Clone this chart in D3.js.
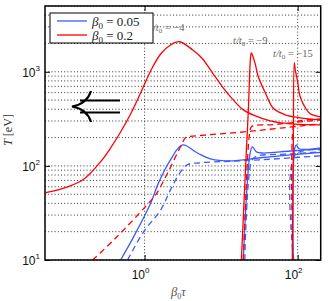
<!DOCTYPE html>
<html>
<head>
<meta charset="utf-8">
<script src="https://cdn.jsdelivr.net/npm/d3@7"></script>
<style>
body{margin:0;background:#fff}
text{font-family:"Liberation Sans",Arial,sans-serif}
.tex{font-family:"Liberation Serif","DejaVu Serif",serif}
</style>
</head>
<body>
<svg id="chart" width="331" height="301"></svg>
<script>
var xTicks = [1, 100];
var yTicks = [10, 100, 1000];
var betaLabels = ["0.05", "0.2"];
var caseLabels = ["\u22124", "\u22129", "\u221215"];

// beta0 = 0.2, solid / dashed, t/t0 = -4, -9, -15   ([beta0*tau, T])
var red4 = [[0.0512,52],[0.099,60],[0.16,72],[0.267,111],[0.36,155],[0.486,229],[0.657,356],[0.887,595],[1.2,1021],[1.62,1545],[2.18,1928],[2.86,2085],[4.22,1714],[5.7,1375],[7.7,975],[10.4,692],[14.0,516],[19.5,394],[28.0,340],[43.9,301],[80.1,280],[200,273]];
var red4d = [[0.21,10],[0.419,17.1],[1.03,37],[1.39,49],[2.0,84],[2.94,159],[3.42,199],[3.75,204],[6.83,214],[20.1,230],[59.3,252],[200,280]];
var red9 = [[18.4,10],[21.4,148],[22.7,394],[24.1,1343],[24.8,1592],[26.4,1410],[28.0,1200],[30.6,885],[37.8,598],[48.1,410],[68.9,349],[108,324],[200,308]];
var red9d = [[19.5,10],[23.4,214],[24.8,260],[28.0,270],[43.9,273],[108,294],[200,308]];
var red15 = [[85.1,10],[87.7,148],[90.3,1247],[93.0,1050],[98.8,822],[108,542],[126,414],[146,358],[200,332]];
var red15d = [[86.4,10],[89,273],[95.9,294],[200,316]];

// beta0 = 0.05
var blue4 = [[0.486,10],[0.719,17.6],[1.2,40],[1.52,66],[2.18,116],[3.13,167],[4.91,137],[7.25,119],[13.2,113],[32.5,122],[80.1,131],[200,139]];
var blue4d = [[0.6,10],[0.97,19.9],[1.62,34],[2.18,55.6],[2.94,86],[3.64,103],[5.37,108],[13.2,112],[32.5,116],[200,128]];
var blue9 = [[19.5,10],[24.1,141],[25.6,159],[28.9,141],[34.5,137],[80.1,144],[200,152]];
var blue9d = [[20.4,10],[24.8,110],[28.0,125],[80.1,134],[200,141]];
var blue15 = [[87.7,10],[91.7,155],[95.9,167],[105,152],[200,155]];
var blue15d = [[89,10],[93,131],[200,148]];

var RED = "#ff0000", BLUE = "#3b5bff";
var series = [
    {d: blue4d, c: BLUE, dash: true}, {d: blue9d, c: BLUE, dash: true}, {d: blue15d, c: BLUE, dash: true},
    {d: blue4, c: BLUE}, {d: blue9, c: BLUE}, {d: blue15, c: BLUE},
    {d: red4d, c: RED, dash: true}, {d: red9d, c: RED, dash: true}, {d: red15d, c: RED, dash: true},
    {d: red4, c: RED}, {d: red9, c: RED}, {d: red15, c: RED}
];

var svg = d3.select("#chart");
var L = 45, R = 320.7, T = 6, B = 260;

var x = d3.scaleLog().domain([0.05, 200]).range([L, R]);
var y = d3.scaleLog().domain([10, 5000]).range([B, T]);

svg.append("clipPath").attr("id", "clip")
    .append("rect").attr("x", L).attr("y", T).attr("width", R - L).attr("height", B - T);

// grid
svg.append("g").selectAll("line").data(y.ticks()).join("line")
    .attr("x1", L).attr("x2", R)
    .attr("y1", d => y(d)).attr("y2", d => y(d))
    .attr("stroke", "#333").attr("stroke-dasharray", "1,2.2");
svg.append("g").selectAll("line").data(xTicks).join("line")
    .attr("x1", d => x(d)).attr("x2", d => x(d))
    .attr("y1", T).attr("y2", B)
    .attr("stroke", "#333").attr("stroke-dasharray", "1,2.2");

// curves
var line = d3.line()
    .x(d => x(d[0]))
    .y(d => y(d[1]))
    .curve(d3.curveCatmullRom.alpha(0.5));

svg.append("g").attr("clip-path", "url(#clip)")
    .selectAll("path").data(series).join("path")
    .attr("d", s => line(s.d))
    .attr("fill", "none")
    .attr("stroke", s => s.c)
    .attr("stroke-width", 1.3)
    .attr("stroke-dasharray", s => s.dash ? "6,4" : null);

// axes (ticks inward, MATLAB style)
function sup(g, base, p) {
    g.append("tspan").text(base);
    g.append("tspan").attr("dy", -6).attr("font-size", 8).text(p);
}
svg.append("g").attr("transform", `translate(0,${B})`)
    .call(d3.axisBottom(x).tickValues(xTicks).tickSize(-5).tickFormat(""));
svg.append("g").attr("transform", `translate(0,${T})`)
    .call(d3.axisTop(x).tickValues(xTicks).tickSize(-5).tickFormat(""));
svg.append("g").attr("transform", `translate(${L},0)`)
    .call(d3.axisLeft(y).tickValues(yTicks).tickSize(-5).tickFormat(""));
svg.append("g").attr("transform", `translate(${R},0)`)
    .call(d3.axisRight(y).tickValues(yTicks).tickSize(-5).tickFormat(""));
svg.selectAll(".domain").remove();
svg.selectAll(".tick line").attr("stroke", "#000");

xTicks.forEach(function(v) {
    var t = svg.append("text").attr("x", x(v) - 4).attr("y", 279)
        .attr("text-anchor", "middle").attr("font-size", 12).attr("fill", "#111");
    sup(t, "10", Math.round(Math.log10(v)));
});
yTicks.forEach(function(v) {
    var t = svg.append("text").attr("x", 40).attr("y", y(v) + 5)
        .attr("text-anchor", "end").attr("font-size", 12).attr("fill", "#111");
    sup(t, "10", Math.round(Math.log10(v)));
});

svg.append("rect").attr("x", L).attr("y", T).attr("width", R - L).attr("height", B - T)
    .attr("fill", "none").attr("stroke", "#000").attr("stroke-width", 1.5);

// axis labels
var xl = svg.append("text").attr("class", "tex").attr("x", 171).attr("y", 296)
    .attr("font-size", 12.5).attr("fill", "#555").attr("font-style", "italic");
xl.append("tspan").text("\u03b2");
xl.append("tspan").attr("dy", 3).attr("font-size", 8).attr("font-style", "normal").text("0");
xl.append("tspan").attr("dy", -3).text("\u03c4");

var yl = svg.append("text").attr("class", "tex")
    .attr("transform", "translate(12,130) rotate(-90)")
    .attr("text-anchor", "middle").attr("font-size", 12).attr("fill", "#333");
yl.append("tspan").attr("font-style", "italic").text("T");
yl.append("tspan").text(" [eV]");

// annotations
var annX = [150, 233, 273], annY = [31, 44, 57];
caseLabels.forEach(function(lab, i) {
    var t = svg.append("text").attr("class", "tex").attr("x", annX[i]).attr("y", annY[i])
        .attr("font-size", 10.5).attr("fill", "#666");
    t.append("tspan").attr("font-style", "italic").text("t/t");
    t.append("tspan").attr("dy", 2).attr("font-size", 7).text("0");
    t.append("tspan").attr("dy", -2).text(" = " + lab);
});

// big arrow
svg.append("path")
    .attr("d", "M80,100.5H120M80,112.5H120M91,91Q87,104 72,106.5Q87,109 91,122")
    .attr("fill", "none").attr("stroke", "#000").attr("stroke-width", 2.2);

// legend
var lg = svg.append("g");
lg.append("rect").attr("x", 50).attr("y", 13).attr("width", 103).attr("height", 30)
    .attr("fill", "#fff").attr("stroke", "#000").attr("stroke-width", 1);
[BLUE, RED].forEach(function(c, i) {
    var yy = 21 + i * 14;
    lg.append("line").attr("x1", 57).attr("x2", 87).attr("y1", yy).attr("y2", yy)
        .attr("stroke", c).attr("stroke-width", 1.3);
    var t = lg.append("text").attr("class", "tex").attr("x", 92).attr("y", yy + 4.5)
        .attr("font-size", 13).attr("fill", "#222");
    t.append("tspan").attr("font-style", "italic").text("\u03b2");
    t.append("tspan").attr("dy", 3).attr("font-size", 9).text("0");
    t.append("tspan").attr("dy", -3).text(" = " + betaLabels[i]);
});
</script>
</body>
</html>
